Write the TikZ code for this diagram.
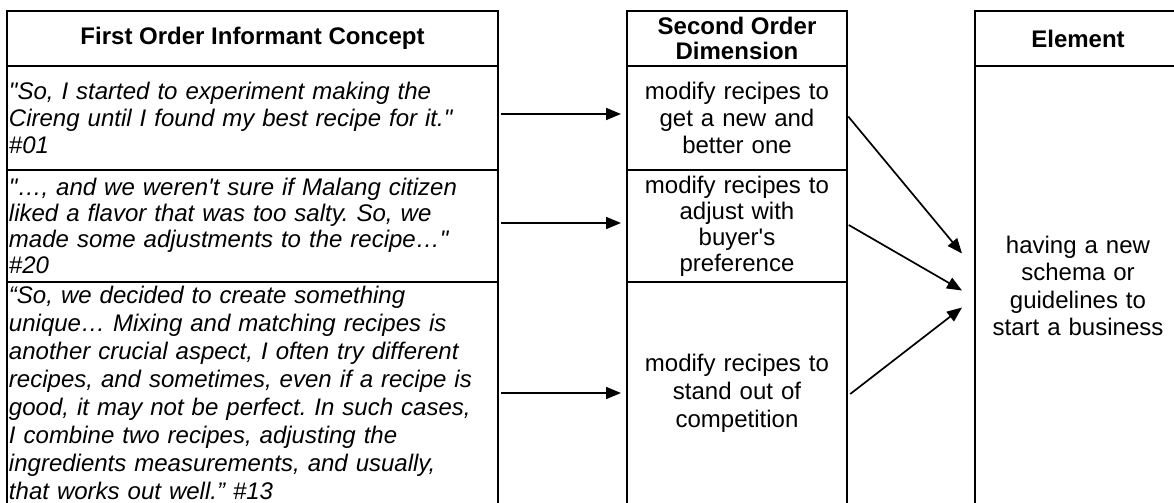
\documentclass[tikz,border=0pt]{standalone}
\usepackage{fontspec}
\newfontfamily\arialfont{Liberation Sans}
\usetikzlibrary{arrows.meta, positioning}
\frenchspacing

\begin{document}
\begin{tikzpicture}[
    x=0.5pt, y=0.5pt,
    cell/.style={rectangle, draw=black, line width=1pt, outer sep=0pt, inner xsep=1pt, inner ysep=0pt, font=\arialfont\fontsize{12}{13.75}\selectfont},
    hdr/.style={cell, minimum height=27.5pt, align=center, font=\arialfont\bfseries\fontsize{12}{12.5}\selectfont},
    qcell/.style={cell, minimum width=245.5pt, text width=243.5pt, align=left, font=\arialfont\itshape\fontsize{12}{#1}\selectfont},
    qcell/.default=13.5pt,
    dimcell/.style={cell, minimum width=110pt, text width=108pt, align=center, font=\arialfont\fontsize{12}{#1}\selectfont},
    dimcell/.default=13.5pt,
    arr/.style={-{Triangle[length=7.5pt, width=6pt]}, line width=0.85pt}
]
    \useasboundingbox (0,0) rectangle (1174,503);
    \clip (0,0) rectangle (1174,503);

    \node[hdr, minimum width=245.5pt, anchor=north west] (conHead) at (7,492) {First Order Informant Concept};
    \node[qcell, minimum height=52pt, below=0pt of conHead] (conA) {"So, I started to experiment making the\\Cireng until I found my best recipe for it."\\\#01};
    \node[qcell=13pt, minimum height=56pt, below=0pt of conA] (conB) {"…, and we weren't sure if Malang citizen\\liked a flavor that was too salty. So, we\\made some adjustments to the recipe…"\\\#20};
    \node[qcell=14pt, minimum height=111pt, below=0pt of conB] (conC) {“So, we decided to create something\\unique… Mixing and matching recipes is\\another crucial aspect, I often try different\\recipes, and sometimes, even if a recipe is\\good, it may not be perfect. In such cases,\\I combine two recipes, adjusting the\\ingredients measurements, and usually,\\that works out well.” \#13};

    \node[hdr, minimum width=110pt, anchor=north west] (dimHead) at (627,492) {Second Order\\Dimension};
    \node[dimcell, minimum height=52pt, below=0pt of dimHead] (dimA) {modify recipes to\\get a new and\\better one};
    \node[dimcell=13pt, minimum height=56pt, below=0pt of dimA] (dimB) {modify recipes to\\adjust with\\buyer's\\preference};
    \node[dimcell=14pt, minimum height=111pt, below=0pt of dimB] (dimC) {modify recipes to\\stand out of\\competition};

    \node[hdr, minimum width=103pt, anchor=north west] (elemHead) at (975,492) {Element};
    \node[cell, minimum width=103pt, text width=101pt, align=center, minimum height=220pt, below=0pt of elemHead] (elem) {having a new\\schema or\\guidelines to\\start a business};

    \draw[arr, shorten <=1.5pt, shorten >=3pt] ([yshift=2pt]conA.east) -- ([yshift=2pt]dimA.west);
    \draw[arr, shorten <=1.5pt, shorten >=3pt] ([yshift=1.5pt]conB.east) -- ([yshift=1.5pt]dimB.west);
    \draw[arr, shorten <=1.5pt, shorten >=3pt] (conC.east) -- (dimC.west);

    % arrow ends in front of the element box
    \coordinate (inA) at ([xshift=-6.5pt, yshift=16.25pt]elem.west);
    \coordinate (inB) at ([xshift=-6.5pt, yshift=-2.25pt]elem.west);
    \coordinate (inC) at ([xshift=-6.5pt, yshift=-10.75pt]elem.west);
    \draw[arr, shorten <=1pt] ([yshift=1.5pt]dimA.east) -- (inA);
    \draw[arr, shorten <=1pt] ([yshift=1pt]dimB.east) -- (inB);
    \draw[arr, shorten <=2pt] ([yshift=-1.75pt]dimC.east) -- (inC);
\end{tikzpicture}
\end{document}
